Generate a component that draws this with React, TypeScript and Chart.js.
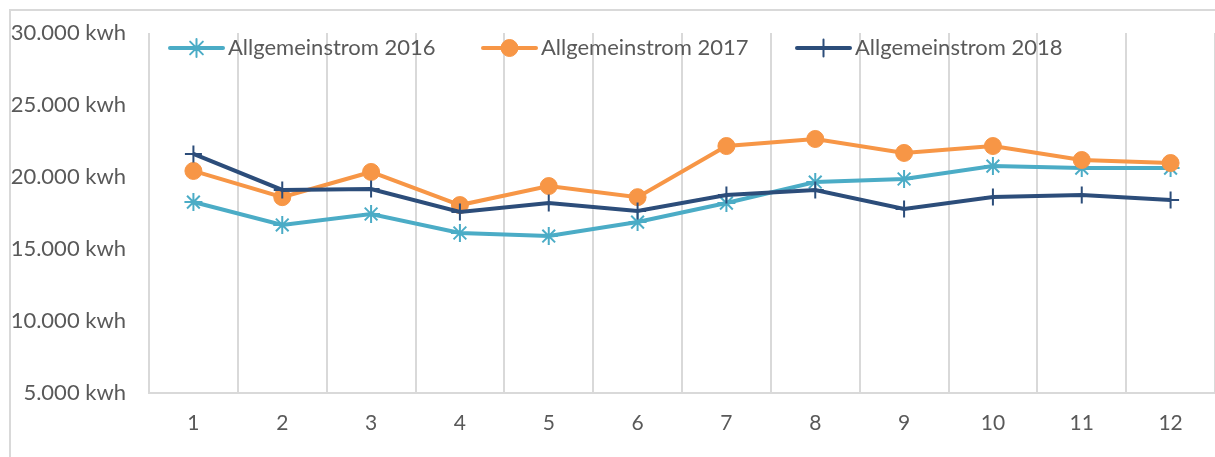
import React, { useEffect, useRef } from "react";
import { Chart, registerables } from "chart.js";
import { drawPoint } from "chart.js/helpers";

Chart.register(...registerables);

const months = ["1", "2", "3", "4", "5", "6", "7", "8", "9", "10", "11", "12"];
const seriesLabels = ["Allgemeinstrom 2016", "Allgemeinstrom 2017", "Allgemeinstrom 2018"];
const values2016 = [18260, 16670, 17430, 16110, 15900, 16870, 18190, 19650, 19860, 20760, 20620, 20620];
const values2017 = [20420, 18600, 20350, 18050, 19370, 18600, 22150, 22640, 21670, 22150, 21180, 20970];
const values2018 = [21600, 19100, 19170, 17570, 18190, 17640, 18750, 19100, 17780, 18610, 18750, 18400];
const yMin = 5000;
const yMax = 30000;
const yStep = 5000;

const colors = ["#4BACC6", "#F79646", "#2C4D7A"];
const pointStyles = ["star", "circle", "cross"];
const pointRadii = [9, 8.5, 8.5];
const legendStarts = [170, 483, 797];

const FONT = "Lato";
const TEXT = "#595959";
const GRID = "#D9D9D9";

function formatKwh(v: number) {
  const s = Math.round(v).toString();
  const withDots = s.replace(/\B(?=(\d{3})+(?!\d))/g, ".");
  return withDots + " kwh";
}

const framePlugin = {
  id: "frame",
  beforeDraw(chart: any) {
    const ctx = chart.ctx;
    ctx.save();
    ctx.fillStyle = "#ffffff";
    ctx.fillRect(0, 0, chart.width, chart.height);
    ctx.strokeStyle = GRID;
    ctx.lineWidth = 2;
    ctx.strokeRect(10, 10, chart.width + 50, chart.height + 50);
    ctx.restore();
  },
};

const legendPlugin = {
  id: "customLegend",
  afterDraw(chart: any) {
    const ctx = chart.ctx;
    ctx.save();
    chart.data.datasets.forEach((ds: any, i: number) => {
      const x0 = legendStarts[i];
      const y = 48;
      ctx.strokeStyle = ds.borderColor;
      ctx.lineWidth = 4;
      ctx.lineCap = "round";
      ctx.beginPath();
      ctx.moveTo(x0, y);
      ctx.lineTo(x0 + 53, y);
      ctx.stroke();
      ctx.fillStyle = ds.pointBackgroundColor;
      ctx.strokeStyle = ds.pointBorderColor;
      ctx.lineWidth = ds.pointBorderWidth;
      drawPoint(ctx, { pointStyle: ds.pointStyle, radius: ds.pointRadius, rotation: 0, borderWidth: ds.pointBorderWidth } as any, x0 + 26.5, y);
      ctx.fillStyle = TEXT;
      ctx.font = `22px ${FONT}`;
      ctx.textAlign = "left";
      ctx.textBaseline = "alphabetic";
      ctx.fillText(ds.label, x0 + 58, 55);
    });
    ctx.restore();
  },
};

export default function App() {
  const ref = useRef<HTMLCanvasElement | null>(null);

  useEffect(() => {
    if (!ref.current) return;
    const seriesValues = [values2016, values2017, values2018];
    const chart = new Chart(ref.current, {
      type: "line",
      data: {
        labels: months,
        datasets: seriesValues.map((vals, i) => ({
          label: seriesLabels[i],
          data: vals,
          borderColor: colors[i],
          backgroundColor: colors[i],
          borderWidth: 4,
          pointStyle: pointStyles[i],
          pointRadius: pointRadii[i],
          pointHoverRadius: pointRadii[i],
          pointBackgroundColor: colors[i],
          pointBorderColor: colors[i],
          pointBorderWidth: i === 1 ? 1 : 2,
          tension: 0,
          order: 3 - i,
          clip: false,
        })) as any,
      },
      options: {
        animation: false,
        responsive: false,
        devicePixelRatio: 1,
        layout: { autoPadding: false, padding: { top: 33, left: 0, right: 0, bottom: 0 } },
        plugins: {
          legend: { display: false },
          tooltip: { enabled: false },
        },
        scales: {
          x: {
            offset: true,
            grid: {
              display: true,
              offset: true,
              color: GRID,
              lineWidth: 2,
              drawTicks: false,
            },
            border: { display: true, color: GRID, width: 2 },
            ticks: {
              color: TEXT,
              font: { family: FONT, size: 21 },
              padding: 18,
              maxRotation: 0,
              autoSkip: false,
            },
            afterFit: (axis: any) => {
              axis.height = 64;
              axis.paddingLeft = 0;
              axis.paddingRight = 0;
            },
          },
          y: {
            min: yMin,
            max: yMax,
            grid: { display: false, drawTicks: false },
            border: { display: false },
            ticks: {
              stepSize: yStep,
              color: TEXT,
              font: { family: FONT, size: 22 },
              padding: 23,
              callback: (v: any) => formatKwh(Number(v)),
            },
            afterFit: (axis: any) => {
              axis.width = 149;
              axis.paddingTop = 0;
              axis.paddingBottom = 0;
            },
          },
        },
      },
      plugins: [framePlugin, legendPlugin],
    });
    return () => chart.destroy();
  }, []);

  return (
    <div style={{ position: "fixed", left: 0, top: 0, width: 1215, height: 457 }}>
      <canvas ref={ref} width={1215} height={457} style={{ width: 1215, height: 457, display: "block" }} />
    </div>
  );
}
